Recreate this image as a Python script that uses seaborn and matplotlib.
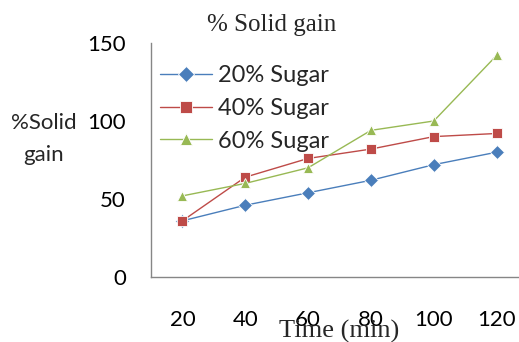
import matplotlib
matplotlib.use("Agg")
import matplotlib.pyplot as plt
import seaborn as sns
import pandas as pd

# Solid gain (%) over drying time for each sugar concentration
times = ["20", "40", "60", "80", "100", "120"]
sugar20 = [36, 46, 54, 62, 72, 80]
sugar40 = [36, 64, 76, 82, 90, 92]
sugar60 = [52, 60, 70, 94, 100, 142]
series_names = ["20% Sugar", "40% Sugar", "60% Sugar"]

df = pd.DataFrame({
    "Time": times * 3,
    "Gain": sugar20 + sugar40 + sugar60,
    "Series": [n for n in series_names for _ in times],
})

sns.set_style("white")
plt.rcParams["font.family"] = ["Lato", "DejaVu Sans"]

W, H = 519, 342
fig = plt.figure(figsize=(W / 100, H / 100), dpi=100)
ax = fig.add_axes([151 / W, 65 / H, 377 / W, 234 / H])

palette = {"20% Sugar": "#4A7EBB", "40% Sugar": "#BE4B48", "60% Sugar": "#98B954"}
sns.lineplot(
    data=df, x="Time", y="Gain", hue="Series", style="Series",
    markers={"20% Sugar": "D", "40% Sugar": "s", "60% Sugar": "^"},
    dashes=False, palette=palette, linewidth=1.0, markersize=7,
    markeredgewidth=0.6, sort=False, ax=ax,
)

ax.set_xlim(-0.5, 5.5)
ax.set_ylim(0, 150)
ax.set_yticks([0, 50, 100, 150])
ax.set_xlabel("")
ax.set_ylabel("")
for side in ("top", "right"):
    ax.spines[side].set_visible(False)
for side in ("left", "bottom"):
    ax.spines[side].set_color("#868686")
    ax.spines[side].set_linewidth(1.0)
ax.tick_params(axis="both", length=0, labelsize=16, colors="black")
ax.tick_params(axis="y", pad=18)
ax.tick_params(axis="x", pad=24)

leg = ax.legend(
    loc="upper left", bbox_to_anchor=(160 / W, 1 - 65 / H),
    bbox_transform=fig.transFigure, frameon=False, fontsize=17,
    handlelength=2.2, handletextpad=0.25, labelspacing=0.5,
    borderaxespad=0, borderpad=0, markerscale=1.15,
)

fig.text(272 / W, 1 - 25 / H, "% Solid gain", ha="center", va="center",
         fontsize=18, family="Liberation Serif")
fig.text(339 / W, 1 - 331 / H, "Time (min)", ha="center", va="center",
         fontsize=19, family="Liberation Serif")
fig.text(44 / W, 1 - 139 / H, "%Solid\ngain", ha="center", va="center",
         fontsize=16, linespacing=1.75)

fig.savefig("out.png", dpi=100)
